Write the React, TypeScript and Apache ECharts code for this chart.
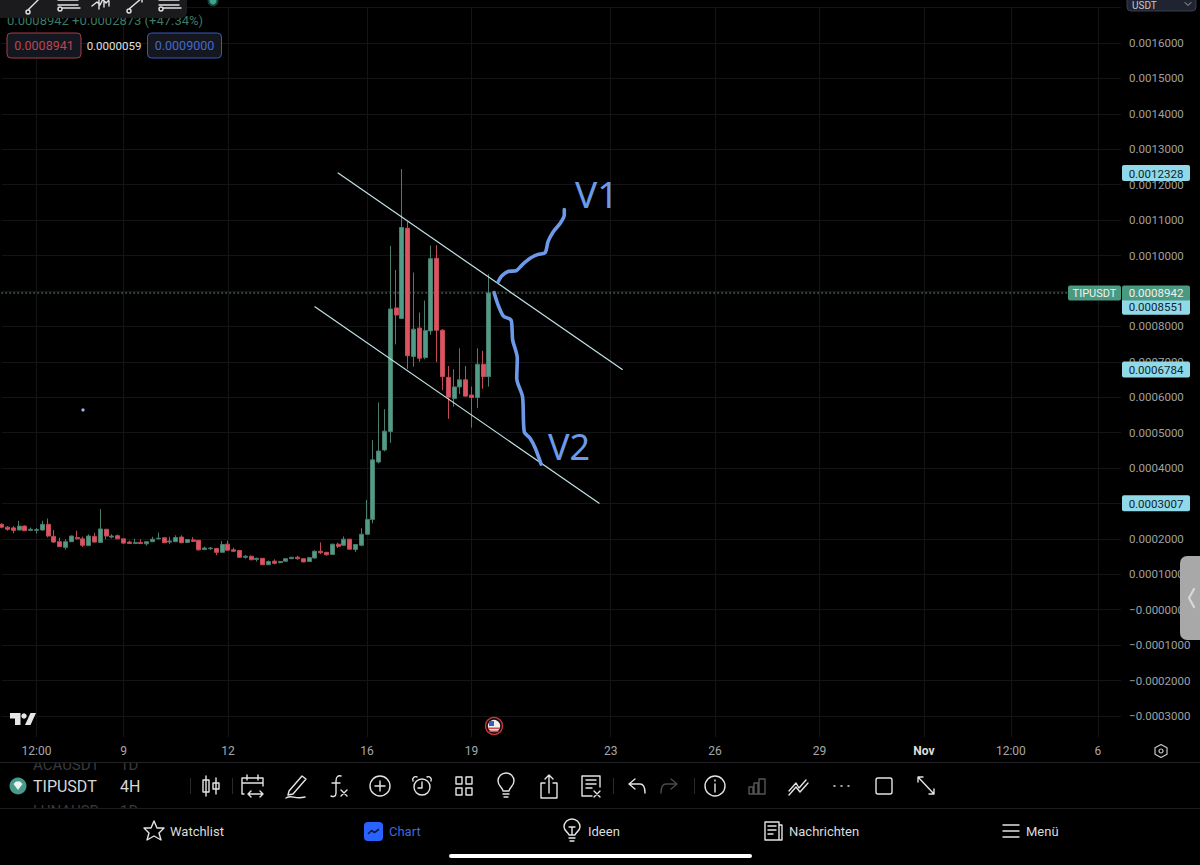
import React, { useEffect, useRef } from "react";
import * as echarts from "echarts";

const FONT = "Roboto, 'Noto Sans', sans-serif";
const BAR_COUNT = 194;
const UNIT = 1e-6;

// [open, close, low, high] of each 4H bar, in millionths of USDT
const candles: number[][] = [
  [241,233,230,244],[233,227,223,236],[231,224,216,236],[225,236,225,251],[236,223,222,238],
  [224,227,222,232],[224,226,215,231],[225,241,223,251],[241,208,204,257],[207,191,189,225],
  [192,178,177,203],[176,192,170,199],[192,208,191,209],[204,200,199,223],[200,182,177,206],
  [181,208,181,213],[207,191,190,217],[190,228,190,284],[227,208,199,228],[205,208,201,213],
  [209,200,199,212],[200,188,186,201],[191,187,186,195],[187,190,185,200],[190,187,185,199],
  [186,192,181,192],[192,199,191,206],[200,202,199,218],[203,189,188,204],[191,194,185,206],
  [192,204,191,210],[205,189,188,210],[190,198,189,199],[197,193,191,205],[196,169,167,197],
  [170,174,168,178],[172,174,169,177],[173,162,154,174],[162,184,161,194],[185,168,166,195],
  [169,165,164,175],[167,148,146,168],[148,151,144,154],[151,141,140,153],[142,145,136,147],
  [145,127,126,146],[127,136,126,139],[137,131,128,142],[133,136,131,138],[137,144,135,145],
  [144,148,143,148],[148,144,141,152],[144,135,134,145],[136,147,135,149],[146,165,144,168],
  [165,161,157,190],[162,155,153,163],[156,185,155,186],[185,179,174,189],[182,199,181,207],
  [199,171,170,200],[170,184,163,184],[182,213,179,230],[213,255,213,310],[255,423,244,479],
  [417,448,413,585],[451,504,447,566],[503,849,471,1027],[852,832,749,959],[822,1079,822,1244],
  [1077,717,680,1095],[715,792,686,952],[795,710,700,839],[712,788,707,873],[787,991,776,1028],
  [992,789,699,1029],[789,658,620,792],[656,600,539,688],[596,629,573,679],[629,649,609,738],
  [649,603,601,688],[606,599,514,630],[599,693,569,738],[693,658,624,731],[658,894.2,630,947],
];

// bar index -> time axis label
const timeTicks: Record<number, string> = {
  6: "12:00", 21: "9", 39: "12", 63: "16", 81: "19", 105: "23",
  123: "26", 141: "29", 159: "Nov", 174: "12:00", 189: "6",
};
const categories = Array.from({ length: BAR_COUNT }, (_, i) => timeTicks[i] ?? "");

const lastPrice = 0.0008942;
const upperChannel = [[58, 0.0012328], [107, 0.0006784]];
const lowerChannel = [[54, 0.0008551], [103, 0.0003007]];
const channelPrices = [0.0012328, 0.0008551, 0.0006784, 0.0003007];

// hand drawn strokes as [bar index, millionths of USDT]
const strokeV1 = [[85.6,926],[86.2,942],[87.3,955],[88.7,957],[89.7,973],[91.1,992],[92.5,1003],[93.7,1008],[94.2,1039],[95.1,1067],[96.3,1091],[97,1114],[97,1130]];
const strokeV2 = [[84.9,895],[85.6,860],[86.5,829],[87.8,818],[88,790],[88.1,761],[88.9,710],[88.8,653],[89.8,601],[90.1,502],[91.1,484],[92,456],[93,411]];

const ICONS: Record<string, string> = {
  candles: "M-5 -10V10M-8 -6H-2V6H-8ZM5 -8V8M2 -3H8V3H2Z",
  calendar: "M-9 8H-11V-8H10V0M-11 -3H10M-6 -11V-6M5 -11V-6M-5 8H10M-2 5L-5 8L-2 11M7 5L10 8L7 11",
  pen: "M-7 5L6 -10L10 -7L-3 8L-8 9ZM-10 12C-4 8 -2 14 9 11",
  fx: "M3 -10C0 -11 -2 -9 -2 -5V7C-2 11 -5 11 -7 10M-6 -3H2M3 4L9 10M9 4L3 10",
  plus: "M-10 0A10 10 0 1 1 10 0A10 10 0 1 1 -10 0ZM-5 0H5M0 -5V5",
  alarm: "M-8 1A8 8 0 1 1 8 1A8 8 0 1 1 -8 1ZM0 -4V2H-4M-9 -5A3 3 0 0 1 -5 -9M9 -5A3 3 0 0 0 5 -9",
  grid: "M-8 -9H-2V-2H-8ZM2 -9H8V-2H2ZM-8 2H-2V9H-8ZM2 2H8V9H2Z",
  bulb: "M-3 5C-3 2 -8 0 -8 -5A8 8 0 0 1 8 -5C8 0 3 2 3 5ZM-3 8H3M-2 11H2",
  share: "M-4 -3H-8V12H8V-3H4M0 7V-11M-4 -7L0 -11L4 -7",
  newsx: "M1 10H-9V-10H9V1M-5 -6H5M-5 -2H5M-5 2H1M3 5L9 11M9 5L3 11",
  undo: "M-2 -7L-8 -2L-2 3M-8 -2H3C7 -2 8 2 8 7",
  redo: "M2 -7L8 -2L2 3M8 -2H-3C-7 -2 -8 2 -8 7",
  info: "M-10 0A10 10 0 1 1 10 0A10 10 0 1 1 -10 0ZM0 -2V6M0 -6V-5",
  bars: "M-8 8H-4V1H-8ZM-3 8H1V-3H-3ZM2 8H8V-7H2Z",
  lines: "M-10 5L-3 -3L0 2L7 -6M-10 9L-3 1L1 6L9 -3",
  dots: "M-7 0h1M0 0h1M7 0h1",
  square: "M-6 -8H6A2 2 0 0 1 8 -6V6A2 2 0 0 1 6 8H-6A2 2 0 0 1 -8 6V-6A2 2 0 0 1 -6 -8Z",
  expand: "M-8 -9L8 8M-8 -9H-3M-8 -9V-4M8 8H3M8 8V3",
  star: "M0 -10L3 -3L10 -3L5 2L7 9L0 5L-7 9L-5 2L-10 -3L-3 -3Z",
  lamp: "M-3 4C-3 2 -8 0 -8 -4A8 8 0 0 1 8 -4C8 0 3 2 3 4ZM-3 7H3M-2 10H2M-3 -4H3M0 -4V3",
  news: "M-8 -9H6V9H-8ZM6 -6H9V9H6M-5 -5H3M-5 -1H3M-5 3H0",
  menu: "M-8 -6H8M-8 0H8M-8 6H8",
  hex: "M0 -6.5L6 -3.2V3.2L0 6.5L-6 3.2V-3.2ZM-2 0A2 2 0 1 1 2 0A2 2 0 1 1 -2 0Z",
  wave: "M-5 2L-2 -1L1 1L5 -2",
  chev: "M3 -9L-2 0L3 9",
  chevDown: "M-3 -1.5L0 1.5L3 -1.5",
  tool1: "M-7 4L4 -7M-9 6A2 2 0 1 0 -5 6A2 2 0 1 0 -9 6Z",
  tool2: "M-12 0H8M-12 -5H8M-8 3H10M-12 4A2 2 0 1 0 -8 4A2 2 0 1 0 -12 4Z",
  tool3: "M-11 2L-6 -2L-3 1L0 -5L3 -1L8 -6M-4 -5V5M1 -6V3M6 -6V2",
  tool4: "M-7 4L6 -7M-9 6A2 2 0 1 0 -5 6A2 2 0 1 0 -9 6ZM6 -7H2M6 -7V-3",
  logoT: "M0 0H10.5V12H5V5.5H0Z",
  logoV: "M26 0H20.5L15 12H20.5Z",
};
Object.entries(ICONS).forEach(([name, d]) => {
  echarts.graphic.registerShape("ic_" + name, echarts.graphic.extendPath(d as any, {}) as any);
});

// Ticks that sit fully behind a price chip in the reference are not shown.
const hiddenTicks = [0.0009, 0.0003];
const fmtPrice = (v: number) => {
  if (v > 0.00165 || v < -0.00035) return "";
  if (hiddenTicks.some((h) => Math.abs(h - v) < 1e-9)) return "";
  if (Math.abs(v) < 1e-9) return "\u22120.0000000";
  return (v < 0 ? "\u2212" : "") + Math.abs(v).toFixed(7);
};

const icon = (name: string, x: number, y: number, stroke = "#e4e4e4", z = 12, extra: any = {}) => ({
  type: "ic_" + name, x, y, z,
  style: { fill: "none", stroke, lineWidth: 1.4, lineCap: "round", lineJoin: "round", ...extra },
});
const txt = (text: string, x: number, y: number, fill: string, fontSize: number, z = 12, align = "left", fontWeight = "normal") => ({
  type: "text", x, y, z,
  style: { text, fill, fontSize, fontFamily: FONT, fontWeight, align, verticalAlign: "middle" },
});
const box = (x: number, y: number, width: number, height: number, fill: string, z = 11, r = 0, stroke?: string) => ({
  type: "rect", z, shape: { x, y, width, height, r },
  style: stroke ? { fill, stroke, lineWidth: 1 } : { fill },
});

function chromeElements(chipYs: number[], lastY: number) {
  const toolbar = [
    ["candles", 211], ["calendar", 253], ["pen", 296], ["fx", 338], ["plus", 380], ["alarm", 422],
    ["grid", 464], ["bulb", 506], ["share", 549], ["newsx", 591], ["undo", 637], ["info", 715],
    ["lines", 799], ["dots", 841], ["square", 884], ["expand", 926],
  ] as [string, number][];
  const els: any[] = [
    // masks below the plot
    box(0, 737, 1200, 128, "#000", 1),
    txt("ACAUSDT", 33, 765, "#3a3a3a", 15, 10),
    txt("1D", 120, 765, "#3a3a3a", 15, 10),
    txt("LUNAUSD", 33, 811, "#3a3a3a", 15, 10),
    txt("1D", 120, 811, "#3a3a3a", 15, 10),
    box(0, 737, 1200, 25, "#000", 11),
    box(0, 808, 1200, 57, "#000", 11),
    box(0, 762, 1200, 1, "#242428", 12),
    box(0, 808, 1200, 1, "#1c1c1f", 12),
    // symbol row
    { type: "circle", z: 12, shape: { cx: 18, cy: 786, r: 8.5 }, style: { fill: "#4a9a8c" } },
    { type: "polygon", z: 13, shape: { points: [[13.5, 784], [16, 781.5], [20, 781.5], [22.5, 784], [18, 790]] } as any, style: { fill: "#e8f4f0" } },
    txt("TIPUSDT", 33, 786, "#d8d8d8", 16),
    txt("4H", 120, 786, "#d8d8d8", 16),
    ...[190, 232, 613, 694].map((x) => box(x, 778, 1, 16, "#2a2a2a", 12)),
    ...toolbar.map(([n, x]) => icon(n, x, 786)),
    icon("redo", 669, 786, "#4a4a4a"),
    icon("bars", 757, 786, "#555"),
    // navigation
    icon("star", 154, 831, "#e4e4e4"),
    txt("Watchlist", 170, 831, "#dcdcdc", 13),
    box(364, 822, 19, 19, "#2962ff", 12, 4),
    icon("wave", 373.5, 831.5, "#0b1a40", 13, { lineWidth: 1.6 }),
    txt("Chart", 389, 831, "#3f68dc", 13),
    icon("lamp", 572, 831),
    txt("Ideen", 588, 831, "#dcdcdc", 13),
    icon("news", 773, 831),
    txt("Nachrichten", 789, 831, "#dcdcdc", 13),
    icon("menu", 1011, 831),
    txt("Menü", 1026, 831, "#dcdcdc", 13),
    box(449, 854, 303, 4, "#ffffff", 12, 2),
    // time axis settings icon
    icon("hex", 1161, 751, "#c8c8c8", 12, { lineWidth: 1.2 }),
    // TradingView mark
    { type: "ic_logoT", x: 10, y: 713, z: 6, style: { fill: "#e8e8e8" } },
    { type: "circle", z: 6, shape: { cx: 24, cy: 716, r: 2.7 }, style: { fill: "#e8e8e8" } },
    { type: "ic_logoV", x: 10, y: 713, z: 6, style: { fill: "#e8e8e8" } },
    // economic event flag
    { type: "circle", z: 6, shape: { cx: 494, cy: 726, r: 8.5 }, style: { fill: "#111", stroke: "#c8343c", lineWidth: 1.4 } },
    { type: "circle", z: 6, shape: { cx: 494, cy: 726, r: 6.2 }, style: { fill: "#eee" } },
    box(489, 721, 5, 5, "#3b5cb8", 7),
    box(488, 727.5, 12, 1.6, "#d24a4a", 7),
    box(489.5, 730.5, 9, 1.6, "#d24a4a", 7),
    { type: "circle", z: 6, shape: { cx: 83, cy: 410, r: 1.6 }, style: { fill: "#9db8ee" } },
    // top-left status
    txt("0.0008942 +0.0002873 (+47.34%)", 7, 20.5, "#3d7a66", 13, 8),
    box(-6, -8, 193, 26, "#1b1b1d", 9, 6),
    icon("tool1", 35, 6, "#e4e4e4", 10),
    icon("tool2", 70, 5, "#e4e4e4", 10),
    icon("tool3", 103, 4, "#e4e4e4", 10),
    icon("tool4", 136, 5, "#e4e4e4", 10),
    icon("tool2", 171, 5, "#e4e4e4", 10),
    { type: "circle", z: 10, shape: { cx: 213, cy: 1, r: 4.5 }, style: { fill: "#3aa58e", stroke: "#1d3d37", lineWidth: 2 } },
    box(7, 33, 74, 25, "#141720", 8, 4, "#a63c48"),
    txt("0.0008941", 44, 45.5, "#bb4551", 12.5, 9, "center"),
    txt("0.0000059", 114, 45.5, "#e0e0e0", 11.5, 9, "center"),
    box(147.5, 33, 74, 25, "#141720", 8, 4, "#3a58b8"),
    txt("0.0009000", 184.5, 45.5, "#4668cc", 12.5, 9, "center"),
    // right side
    box(1127, -6, 69, 17, "#1f2430", 8, 4, "#3a3f4c"),
    txt("USDT", 1132, 5, "#c8c8c8", 10, 9),
    icon("chevDown", 1188, 4, "#aaa", 9, { lineWidth: 1 }),
    box(1180, 556, 30, 84, "#a8a8a8", 9, 7),
    icon("chev", 1191, 598, "#d8d8d8", 10, { lineWidth: 2.2 }),
  ];
  channelPrices.forEach((p, i) => {
    els.push(box(1122, chipYs[i] - 8, 68, 16, "#90d9e8", 8 , 2));
    els.push(txt(p.toFixed(7), 1156, chipYs[i] + 0.5, "#10242c", 11.5, 9, "center"));
  });
  els.push(box(1068, lastY - 7.5, 53, 15, "#4a9a82", 8, 2));
  els.push(txt("TIPUSDT", 1094.5, lastY + 0.5, "#f0f0f0", 11, 9, "center"));
  els.push(box(1122, lastY - 7.5, 68, 15, "#4a9a82", 8, 2));
  els.push(txt(lastPrice.toFixed(7), 1156, lastY + 0.5, "#f0f0f0", 11.5, 9, "center"));
  return els;
}

export default function App() {
  const ref = useRef<HTMLDivElement>(null);
  useEffect(() => {
    document.body.style.margin = "0";
    document.body.style.background = "#000";
    const chart = echarts.init(ref.current!, undefined, { renderer: "svg" });
    const micro = (rows: number[][]) => rows.map(([i, v]) => [i, v * UNIT]);
    const plotLeft = 1.7;
    const plotWidth = 1119.4;
    const gridColor = "#141417";
    const lineSeries = (name: string, data: number[][], color: string, width: number, z: number, extra: any = {}) => ({
      name, type: "line" as const, xAxisIndex: 2, yAxisIndex: 0, data, z, showSymbol: false, symbol: "none",
      silent: true, lineStyle: { color, width, cap: "round", join: "round", ...extra.lineStyle },
      smooth: extra.smooth ?? false,
    });
    chart.setOption({
      animation: false,
      backgroundColor: "#000",
      grid: [
        { left: plotLeft, top: 7.56, width: plotWidth, height: 743.82 },
        { left: plotLeft, top: 730, width: plotWidth, height: 14 },
      ],
      xAxis: [
        {
          type: "category", gridIndex: 0, data: categories, boundaryGap: false,
          axisLine: { show: false }, axisTick: { show: false }, axisLabel: { show: false },
          splitLine: {
            show: true,
            interval: (i: number) => timeTicks[i] !== undefined,
            lineStyle: { color: gridColor, width: 1 },
          },
        },
        {
          type: "category", gridIndex: 1, data: categories, z: 12, boundaryGap: false,
          axisLine: { show: false }, axisTick: { show: false }, splitLine: { show: false },
          axisLabel: {
            show: true, margin: 1,
            interval: (i: number) => timeTicks[i] !== undefined,
            color: "#a8a8a8", fontSize: 12, fontFamily: FONT,
            formatter: (v: string) => (v === "Nov" ? "{b|Nov}" : v),
            rich: { b: { color: "#dedede", fontWeight: "bold", fontSize: 12, fontFamily: FONT } },
          },
        },
        { type: "value", gridIndex: 0, show: false, min: 0, max: BAR_COUNT - 1 },
      ],
      yAxis: [
        {
          type: "value", gridIndex: 0, position: "right", min: -0.0004, max: 0.0017, interval: 0.0001,
          axisLine: { show: false }, axisTick: { show: false },
          axisLabel: { show: true, margin: 8, color: "#a0a0a0", fontSize: 11.5, fontFamily: FONT, formatter: fmtPrice },
          splitLine: { show: true, lineStyle: { color: gridColor, width: 1 } },
        },
        { type: "value", gridIndex: 1, show: false },
      ],
      series: [
        lineSeries("last price", [[0, lastPrice], [BAR_COUNT - 1, lastPrice]], "#6f8a80", 1, 1, { lineStyle: { type: [1, 3] } }),
        {
          name: "TIPUSDT", type: "candlestick", xAxisIndex: 0, yAxisIndex: 0, barWidth: 4.4, z: 2, silent: true, clip: false,
          data: candles.map((row) => row.map((v) => v * UNIT)),
          itemStyle: { color: "#519c86", color0: "#e0525f", borderColor: "#4a7d6d", borderColor0: "#c04c57", borderWidth: 1 },
        },
        lineSeries("upper channel", upperChannel, "#bfe3e6", 1.2, 3),
        lineSeries("lower channel", lowerChannel, "#bfe3e6", 1.2, 3),
        lineSeries("V1 stroke", micro(strokeV1), "#6d9ae8", 3.6, 4, { smooth: 0.25 }),
        lineSeries("V2 stroke", micro(strokeV2), "#6d9ae8", 3.6, 4, { smooth: 0.25 }),
      ],
    });
    const toY = (p: number) => chart.convertToPixel({ yAxisIndex: 0 }, p) as number;
    chart.setOption({
      graphic: {
        elements: [
          ...chromeElements(channelPrices.map(toY), toY(lastPrice)),
          {
            type: "text", x: 575, y: 212, z: 5,
            style: { text: "V1", fill: "#6d9ae8", fontSize: 37, fontFamily: "'Noto Sans', sans-serif", align: "left", verticalAlign: "bottom" },
          },
          {
            type: "text", x: 548, y: 464, z: 5,
            style: { text: "V2", fill: "#6d9ae8", fontSize: 36, fontFamily: "'Noto Sans', sans-serif", align: "left", verticalAlign: "bottom" },
          },
        ],
      },
    });
    return () => chart.dispose();
  }, []);
  return <div ref={ref} style={{ width: 1200, height: 865 }} />;
}
